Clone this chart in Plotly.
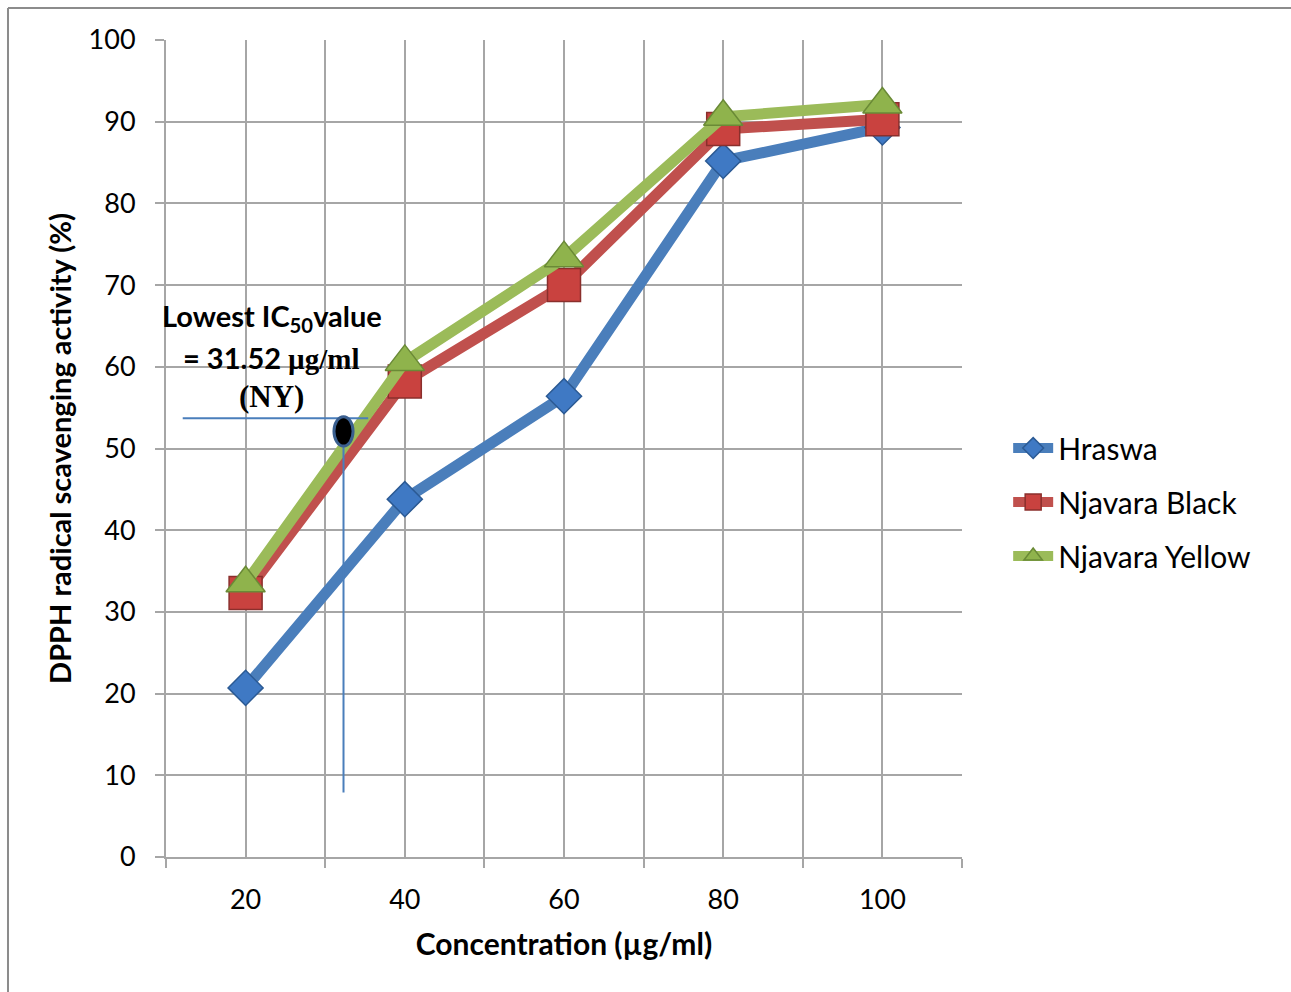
import plotly.graph_objects as go

concentration = [20, 40, 60, 80, 100]
hraswa = [20.7, 43.8, 56.4, 85.2, 89.3]
njavara_black = [32.3, 58.2, 70.0, 89.1, 90.3]
njavara_yellow = [33.5, 60.6, 73.3, 90.6, 92.1]

series_names = ["Hraswa", "Njavara Black", "Njavara Yellow"]
y_ticks = list(range(0, 101, 10))
x_labels = ["20", "40", "60", "80", "100"]

# IC50 guide
ic50_guide_x = 32.3
ic50_guide_y = 53.7
ic50_guide_x_start = 12.1
ic50_guide_x_end = 35.4
ic50_guide_y_bottom = 7.9
ic50_point_y = 52.1

FONT = "Lato"
SERIF = "Liberation Serif"

styles = [
    dict(line="#4a7ebb", fill="#3f79c4", edge="#2b5a94", symbol="diamond", size=27),
    dict(line="#c0504d", fill="#c9423f", edge="#8a2f2c", symbol="square", size=33),
    dict(line="#9bbb59", fill="#8fb34c", edge="#6a8a36", symbol="triangle-up", size=34),
]

fig = go.Figure()
for name, vals, st in zip(series_names, [hraswa, njavara_black, njavara_yellow], styles):
    fig.add_trace(go.Scatter(
        x=concentration, y=vals, name=name, mode="lines+markers",
        legendgroup=name,
        line=dict(color=st["line"], width=11),
        marker=dict(symbol=st["symbol"], size=st["size"], color=st["fill"],
                    line=dict(color=st["edge"], width=1.5)),
    ))

line_col = "#4a7ebb"
fig.add_shape(type="line", xref="x", yref="y",
              x0=ic50_guide_x_start, x1=ic50_guide_x_end, y0=ic50_guide_y, y1=ic50_guide_y,
              line=dict(color=line_col, width=2))
fig.add_shape(type="line", xref="x", yref="y",
              x0=ic50_guide_x, x1=ic50_guide_x, y0=ic50_guide_y, y1=ic50_guide_y_bottom,
              line=dict(color=line_col, width=2))
fig.add_shape(type="circle", xref="x", yref="y",
              x0=ic50_guide_x - 1.2, x1=ic50_guide_x + 1.2,
              y0=ic50_point_y - 1.8, y1=ic50_point_y + 1.8,
              fillcolor="black", line=dict(color="#3a5f8f", width=3))

fig.add_annotation(x=23.3, y=66.0, xref="x", yref="y", showarrow=False,
                   text="<b>Lowest IC<sub>50</sub>value</b>",
                   font=dict(family=FONT, size=29, color="black"))
fig.add_annotation(x=23.3, y=61.2, xref="x", yref="y", showarrow=False,
                   text="<b>= 31.52 <span style='font-family:Liberation Serif'>µg/ml</span></b>",
                   font=dict(family=FONT, size=29, color="black"))
fig.add_annotation(x=23.3, y=56.4, xref="x", yref="y", showarrow=False,
                   text="<b>(NY)</b>",
                   font=dict(family=SERIF, size=31, color="black"))

# outer frame lines (top and left)
fig.add_shape(type="line", xref="paper", yref="paper", x0=-0.1985, x1=1.42, y0=1.0392, y1=1.0392,
              line=dict(color="#8c8c8c", width=2))
fig.add_shape(type="line", xref="paper", yref="paper", x0=-0.1985, x1=-0.1985, y0=1.0392, y1=-0.2,
              line=dict(color="#8c8c8c", width=2))

grid = "#a6a6a6"
fig.update_layout(
    width=1291, height=992,
    margin=dict(l=166, r=329, t=40, b=135),
    paper_bgcolor="white", plot_bgcolor="white",
    font=dict(family=FONT, size=27, color="black"),
    showlegend=True,
    legend=dict(x=1.058, y=0.4345, xanchor="left", yanchor="middle",
                font=dict(family=FONT, size=30, color="black"),
                tracegroupgap=12, itemwidth=40, bgcolor="rgba(0,0,0,0)"),
    xaxis=dict(range=[10, 110], tickvals=concentration, ticktext=x_labels, ticks="",
               showgrid=True, gridcolor=grid, gridwidth=2,
               showline=True, linecolor=grid, linewidth=2, mirror=False,
               zeroline=False, ticklabelstandoff=18,
               minor=dict(tickvals=[10, 30, 50, 70, 90, 110], ticks="outside", ticklen=9,
                          tickcolor=grid, tickwidth=2, showgrid=True, gridcolor=grid, gridwidth=2),
               title=dict(text="<b>Concentration (µg/ml)</b>", standoff=20,
                          font=dict(family=FONT, size=30, color="black")),
               tickfont=dict(family=FONT, size=27, color="black")),
    yaxis=dict(range=[0, 100], tickvals=y_ticks, ticks="outside", ticklen=9,
               tickcolor=grid, tickwidth=2,
               showgrid=True, gridcolor=grid, gridwidth=2,
               showline=True, linecolor=grid, linewidth=2,
               zeroline=False, ticklabelstandoff=14,
               title=dict(text="<b>DPPH radical scavenging activity (%)</b>", standoff=8,
                          font=dict(family=FONT, size=29, color="black")),
               tickfont=dict(family=FONT, size=27, color="black")),
)

fig.write_html("out.html")
